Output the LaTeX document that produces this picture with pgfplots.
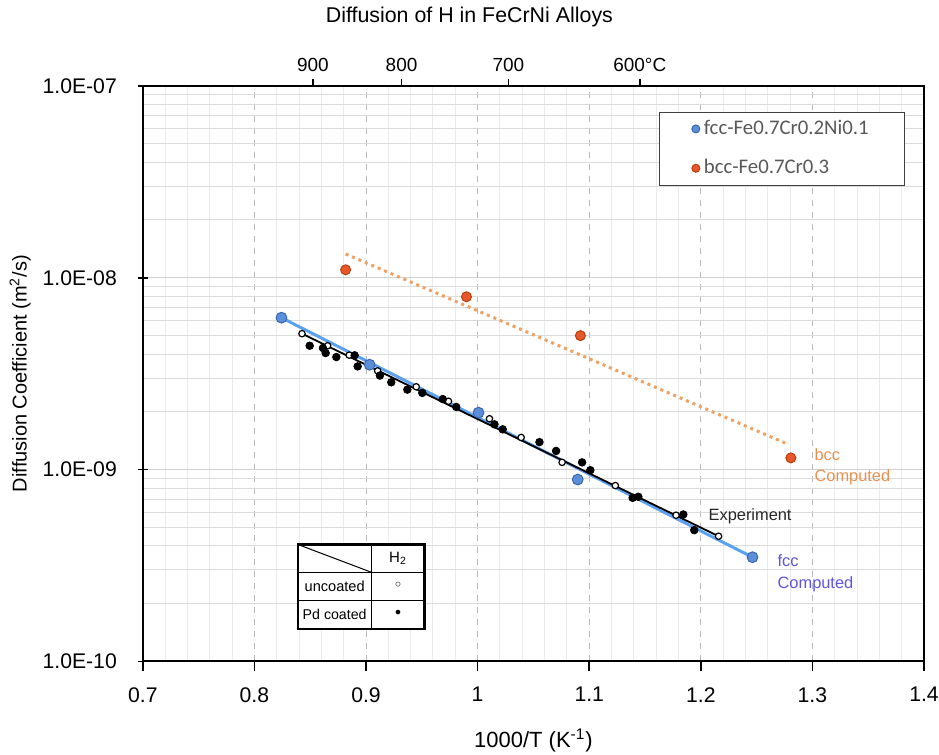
\documentclass[border=0pt]{standalone}
\usepackage{fontspec}
\setmainfont{Liberation Sans}
\newfontfamily\legfont{Carlito}
\newfontfamily\symfont{DejaVu Sans}
\usepackage{pgfplots}
\pgfplotsset{compat=1.18}
\definecolor{fccfill}{HTML}{5B8FD9}
\definecolor{fccedge}{HTML}{3A67B0}
\definecolor{fccline}{HTML}{5AA2F0}
\definecolor{bccfill}{HTML}{E8572A}
\definecolor{bccedge}{HTML}{B8400F}
\definecolor{bccline}{HTML}{F0A060}
\definecolor{bcctext}{HTML}{E99050}
\definecolor{fcctext}{HTML}{5F55E1}
\definecolor{legtext}{HTML}{595959}

\begin{document}
\begin{tikzpicture}
\begin{axis}[
  name=main,
  width=391pt, height=288pt, scale only axis,
  xmin=0.7, xmax=1.4,
  ymode=log, ymin=1e-10, ymax=1e-7,
  xtick={0.7,0.8,0.9,1.0,1.1,1.2,1.3,1.4},
  xticklabels={0.7,0.8,0.9,1,1.1,1.2,1.3,1.4},
  ytick={1e-10,1e-9,1e-8,1e-7},
  yticklabels={1.0E-10,1.0E-09,1.0E-08,1.0E-07},
  minor x tick num=4,
  xtick pos=bottom, ytick pos=left,
  xtick align=outside, ytick align=center,
  major tick length=5pt, minor tick length=0pt,
  xmajorgrids, xminorgrids, ymajorgrids, yminorgrids,
  major x grid style={gray!55, dashed, line width=0.5pt},
  minor x grid style={black!8, line width=0.5pt},
  major y grid style={black!18, line width=0.6pt},
  minor y grid style={black!14, line width=0.5pt},
  axis line style={black, line width=0.9pt},
  tick style={black, line width=0.8pt},
  tick label style={font=\fontsize{10.6}{12}\selectfont},
  xticklabel style={yshift=-4.5pt, inner xsep=0pt},
  yticklabel style={xshift=-7pt},
  xlabel={1000/T (K\textsuperscript{-1})},
  ylabel={Diffusion Coefficient (m\textsuperscript{2}/s)},
  label style={font=\fontsize{11}{13}\selectfont},
  xlabel style={yshift=-9pt, inner sep=1pt},
  every axis y label/.style={at={(axis description cs:-0.157,0.5)},
    rotate=90, anchor=center, inner sep=1pt},
  legend style={at={(0.9757,0.9549)}, anchor=north east,
    draw=black!75, inner xsep=16pt, inner ysep=2pt, row sep=7pt,
    font=\legfont\fontsize{10.4}{12}\selectfont, text=legtext},
  legend cell align=left,
  legend image post style={mark size=2pt},
]
% fitted lines
\addplot[forget plot, fccline, line width=1.5pt] coordinates {(0.8242,6.19e-9) (1.2463,3.49e-10)};
\addplot[forget plot, black, line width=0.9pt] coordinates {(0.8426,5.11e-9) (1.2159,4.49e-10)};
% experiment, uncoated
\addplot[forget plot, only marks, mark=*, mark size=1.6pt,
  mark options={fill=white, draw=black, line width=0.6pt}] coordinates {
  (0.8426,5.11e-9) (0.8656,4.42e-9) (0.8849,3.95e-9) (0.9104,3.27e-9)
  (0.9450,2.70e-9) (0.9739,2.27e-9) (1.0106,1.84e-9) (1.0390,1.47e-9)
  (1.0757,1.09e-9) (1.1234,8.25e-10) (1.1778,5.78e-10) (1.2159,4.49e-10)};
% experiment, Pd coated
\addplot[forget plot, only marks, mark=*, mark size=1.9pt, black] coordinates {
  (0.8495,4.42e-9) (0.8614,4.30e-9) (0.8638,4.05e-9) (0.8734,3.86e-9)
  (0.8898,3.94e-9) (0.8925,3.45e-9) (0.9124,3.09e-9) (0.9226,2.85e-9)
  (0.9370,2.61e-9) (0.9504,2.51e-9) (0.9688,2.33e-9) (0.9808,2.12e-9)
  (1.0151,1.72e-9) (1.0225,1.62e-9) (1.0554,1.39e-9) (1.0703,1.25e-9)
  (1.0936,1.09e-9) (1.1010,9.92e-10) (1.1389,7.12e-10) (1.1440,7.21e-10)
  (1.1843,5.83e-10) (1.1941,4.83e-10)};
% fcc computed
\addplot[only marks, mark=*, mark size=2.7pt,
  mark options={fill=fccfill, draw=fccedge, line width=0.5pt}] coordinates {
  (0.8242,6.19e-9) (0.9032,3.52e-9) (1.0008,1.98e-9) (1.0897,8.87e-10) (1.2463,3.49e-10)};
\addlegendentry{fcc-Fe0.7Cr0.2Ni0.1}
% bcc computed
\addplot[forget plot, bccline, dotted, line width=1.5pt] coordinates {(0.8817,1.33e-8) (1.2762,1.37e-9)};
\addplot[only marks, mark=*, mark size=2.5pt,
  mark options={fill=bccfill, draw=bccedge, line width=0.5pt}] coordinates {
  (0.8817,1.10e-8) (0.9900,7.96e-9) (1.0921,4.99e-9) (1.2807,1.15e-9)};
\addlegendentry{bcc-Fe0.7Cr0.3}
% annotations
\node[anchor=base west, inner sep=0pt, text=bcctext, font=\fontsize{8.2}{9}\selectfont] at (axis cs:1.3016,1.114e-9) {bcc};
\node[anchor=base west, inner sep=0pt, text=bcctext, font=\fontsize{8.2}{9}\selectfont] at (axis cs:1.3016,8.69e-10) {Computed};
\node[anchor=base west, inner sep=0pt, text=black!85, font=\fontsize{8.2}{9}\selectfont] at (axis cs:1.2067,5.45e-10) {Experiment};
\node[anchor=base west, inner sep=0pt, text=fcctext, font=\fontsize{8.2}{9}\selectfont] at (axis cs:1.2685,3.13e-10) {fcc};
\node[anchor=base west, inner sep=0pt, text=fcctext, font=\fontsize{8.2}{9}\selectfont] at (axis cs:1.2685,2.40e-10) {Computed};
% inset key table
\draw[fill=white, line width=1.2pt] (axis cs:0.8388,4.07e-10) rectangle (axis cs:0.9524,1.47e-10);
\draw[line width=0.5pt] (axis cs:0.905,4.07e-10) -- (axis cs:0.905,1.47e-10);
\draw[line width=0.5pt] (axis cs:0.8388,2.91e-10) -- (axis cs:0.9524,2.91e-10);
\draw[line width=0.5pt] (axis cs:0.8388,2.08e-10) -- (axis cs:0.9524,2.08e-10);
\draw[line width=0.5pt] (axis cs:0.8388,4.07e-10) -- (axis cs:0.905,2.91e-10);
\node[font=\fontsize{7.5}{9}\selectfont] at (axis cs:0.9287,3.44e-10) {H\textsubscript{2}};
\node[font=\fontsize{7.3}{9}\selectfont] at (axis cs:0.8719,2.46e-10) {uncoated};
\node[font=\fontsize{7.1}{9}\selectfont] at (axis cs:0.8719,1.76e-10) {Pd coated};
\node[font=\symfont\fontsize{8}{9}\selectfont] at (axis cs:0.9287,2.46e-10) {◦};
\node[font=\symfont\fontsize{8}{9}\selectfont] at (axis cs:0.9287,1.76e-10) {•};
\end{axis}
\begin{axis}[
  width=391pt, height=288pt, scale only axis,
  xmin=0.7, xmax=1.4, ymin=0, ymax=1,
  axis x line*=top, hide y axis,
  axis line style={black, line width=0.9pt},
  xtick={0.85241,0.93184,1.02759,1.14528},
  xticklabels={900,800,700,600°C},
  xtick align=outside, major tick length=3.5pt,
  tick style={black, line width=0.8pt},
  tick label style={font=\fontsize{9.5}{11}\selectfont},
  title={Diffusion of H in FeCrNi Alloys},
  title style={at={(0.418,1)}, anchor=south, yshift=20pt, font=\fontsize{10.7}{13}\selectfont},
]
\end{axis}
\path (main.south west) ++(-71.5pt,-45pt);
\path (main.north east) ++(7.5pt,43pt);
\end{tikzpicture}
\end{document}
